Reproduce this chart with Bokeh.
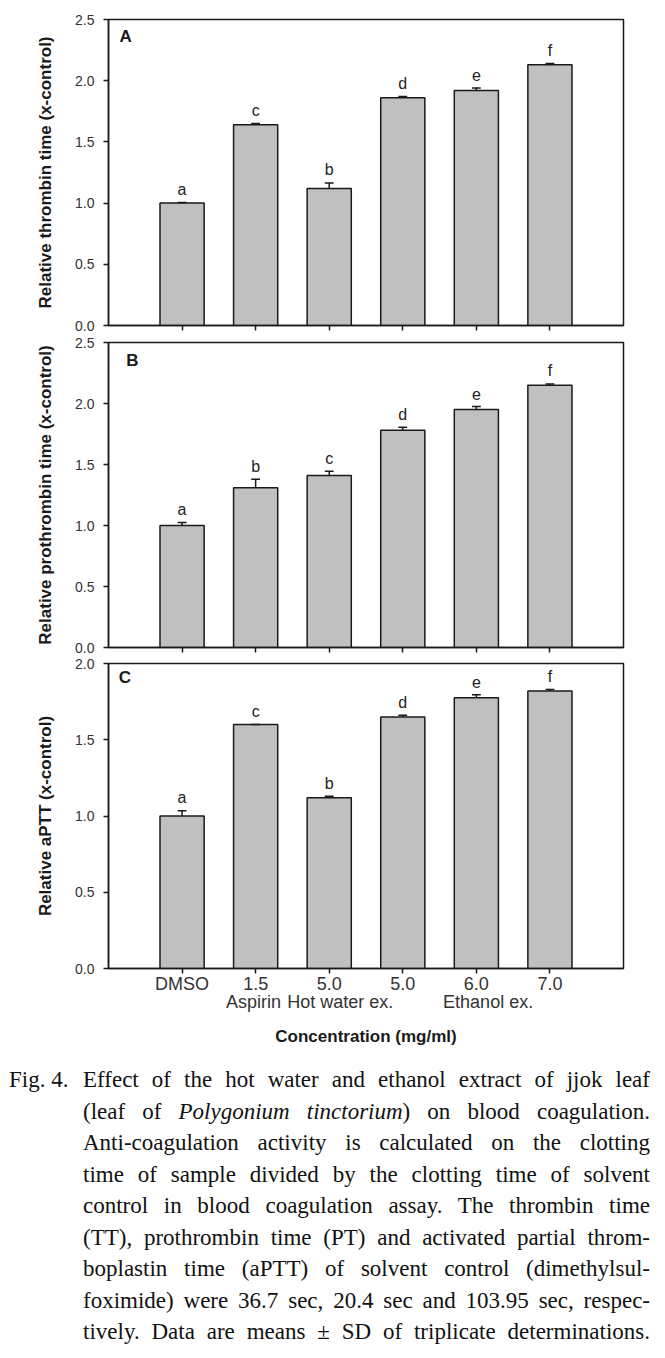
from bokeh.plotting import figure
from bokeh.models import Range1d, FixedTicker, PrintfTickFormatter, LinearAxis, Label, Div
from bokeh.layouts import column
from bokeh.embed import file_html
from bokeh.resources import INLINE
from bokeh.core.properties import value

# ---------------- data ----------------
positions = [1, 2, 3, 4, 5, 6]
concentrations = ["DMSO", "1.5", "5.0", "5.0", "6.0", "7.0"]
groups = ["Aspirin", "Hot water ex.", "Ethanol ex."]
group_members = [[2], [3], [4, 5, 6]]

tt_mean = [1.00, 1.64, 1.12, 1.86, 1.92, 2.13]
tt_sd = [0.005, 0.01, 0.045, 0.01, 0.02, 0.01]
tt_letters = ["a", "c", "b", "d", "e", "f"]

pt_mean = [1.00, 1.31, 1.41, 1.78, 1.95, 2.15]
pt_sd = [0.025, 0.07, 0.035, 0.025, 0.025, 0.01]
pt_letters = ["a", "b", "c", "d", "e", "f"]

aptt_mean = [1.00, 1.60, 1.12, 1.65, 1.775, 1.82]
aptt_sd = [0.035, 0.0, 0.01, 0.01, 0.02, 0.01]
aptt_letters = ["a", "c", "b", "d", "e", "f"]

ticks_25 = [0.0, 0.5, 1.0, 1.5, 2.0, 2.5]
ticks_20 = [0.0, 0.5, 1.0, 1.5, 2.0]

caption_lines = [
    "Effect of the hot water and ethanol extract of jjok leaf",
    "(leaf of <i>Polygonium tinctorium</i>) on blood coagulation.",
    "Anti-coagulation activity is calculated on the clotting",
    "time of sample divided by the clotting time of solvent",
    "control in blood coagulation assay. The thrombin time",
    "(TT), prothrombin time (PT) and activated partial throm-",
    "boplastin time (aPTT) of solvent control (dimethylsul-",
    "foximide) were 36.7 sec, 20.4 sec and 103.95 sec, respec-",
    "tively. Data are means &plusmn; SD of triplicate determinations.",
]

# ---------------- style ----------------
SANS = "Liberation Sans"
INK = "#1a1a1a"
BAR = "#c0c0c0"
BAR_W = 0.6
CAP_HALF = 0.06
LETTER_GAP_PX = 13
group_nudge = [-0.03, 0.15, 0.16]


def panel(mean, sd, letters, ymax, yticks, ylabel, tag, tag_xy,
          border_top, border_bottom, frame_h, show_x):
    p = figure(frame_width=515, frame_height=frame_h,
               x_range=Range1d(0, 7), y_range=Range1d(0, ymax),
               toolbar_location=None, output_backend="svg",
               min_border_left=108, min_border_right=28,
               min_border_top=border_top, min_border_bottom=border_bottom)
    p.grid.visible = False
    p.outline_line_color = INK
    p.outline_line_width = 1.5

    p.vbar(x=positions, top=mean, width=BAR_W, bottom=0,
           fill_color=BAR, line_color=INK, line_width=1.5)
    tops = [m + s for m, s in zip(mean, sd)]
    p.segment(x0=positions, y0=mean, x1=positions, y1=tops,
              line_color=INK, line_width=1.5)
    p.segment(x0=[x - CAP_HALF for x in positions], y0=tops,
              x1=[x + CAP_HALF for x in positions], y1=tops,
              line_color=INK, line_width=1.5)
    gap = LETTER_GAP_PX * ymax / frame_h
    p.text(x=positions, y=[t + gap for t in tops], text=letters,
           text_align="center", text_baseline="middle",
           text_font=value(SANS), text_font_size="16px", text_color="#222222")
    p.add_layout(Label(x=tag_xy[0], y=tag_xy[1], text=tag, text_font=SANS,
                       text_font_style="bold", text_font_size="17px",
                       text_baseline="middle", text_color=INK))

    ya = p.yaxis[0]
    ya.ticker = FixedTicker(ticks=yticks)
    ya.formatter = PrintfTickFormatter(format="%.1f")
    ya.major_tick_out = 5
    ya.major_tick_in = 0
    ya.minor_tick_out = 0
    ya.minor_tick_in = 0
    ya.axis_line_color = INK
    ya.axis_line_width = 1.5
    ya.major_tick_line_width = 1.5
    ya.major_tick_line_color = INK
    ya.major_label_text_font = SANS
    ya.major_label_text_font_size = "14px"
    ya.major_label_text_color = "#333333"
    ya.major_label_standoff = 9
    ya.axis_label = ylabel
    ya.axis_label_text_font = SANS
    ya.axis_label_text_font_style = "bold"
    ya.axis_label_text_font_size = "17px"
    ya.axis_label_text_color = INK
    ya.axis_label_standoff = 17

    xa = p.xaxis[0]
    xa.ticker = FixedTicker(ticks=positions)
    xa.major_tick_out = 5
    xa.major_tick_in = 0
    xa.minor_tick_out = 0
    xa.minor_tick_in = 0
    xa.axis_line_color = INK
    xa.axis_line_width = 1.5
    xa.major_tick_line_width = 1.5
    xa.major_tick_line_color = INK
    if show_x:
        xa.major_label_overrides = {pos: c for pos, c in zip(positions, concentrations)}
        xa.major_label_text_font = SANS
        xa.major_label_text_font_size = "18px"
        xa.major_label_text_color = "#333333"
        xa.major_label_standoff = 0
        gx = [sum(m) / len(m) + n for m, n in zip(group_members, group_nudge)]
        ga = LinearAxis(ticker=FixedTicker(ticks=gx),
                        major_label_overrides={g: name for g, name in zip(gx, groups)},
                        axis_line_color=None, major_tick_out=0, major_tick_in=0,
                        minor_tick_out=0, minor_tick_in=0,
                        major_label_text_font=SANS, major_label_text_font_size="18px",
                        major_label_text_color="#333333", major_label_standoff=-5,
                        axis_label="Concentration (mg/ml)", axis_label_text_font=SANS,
                        axis_label_text_font_style="bold", axis_label_text_font_size="17px",
                        axis_label_text_color=INK, axis_label_standoff=12)
        p.add_layout(ga, "below")
    else:
        xa.major_label_overrides = {pos: "" for pos in positions}
        xa.major_label_text_font_size = "1px"
        xa.major_label_standoff = 0
    return p


pA = panel(tt_mean, tt_sd, tt_letters, 2.5, ticks_25,
           "Relative thrombin time (x-control)", "A", (0.15, 2.36),
           19, 8, 306, False)
pB = panel(pt_mean, pt_sd, pt_letters, 2.5, ticks_25,
           "Relative prothrombin time (x-control)", "B", (0.24, 2.35),
           9, 9, 305, False)
pC = panel(aptt_mean, aptt_sd, aptt_letters, 2.0, ticks_20,
           "Relative aPTT (x-control)", "C", (0.14, 1.91),
           7, 82, 305, True)

line_html = "".join(
    f'<div style="text-align:justify;text-align-last:justify;">{ln}</div>'
    for ln in caption_lines)
html = (
    '<div style="position:relative;width:645px;height:300px;'
    "font-family:'Liberation Serif';font-size:23px;line-height:31.5px;color:#111;\">"
    '<div style="position:absolute;left:4px;top:9px;">Fig. 4.</div>'
    f'<div style="position:absolute;left:78px;width:567px;top:9px;">{line_html}</div>'
    '</div>'
)
caption = Div(text=html, width=655, height=300)

layout = column(pA, pB, pC, caption)
open("out.html", "w").write(file_html(layout, INLINE))
